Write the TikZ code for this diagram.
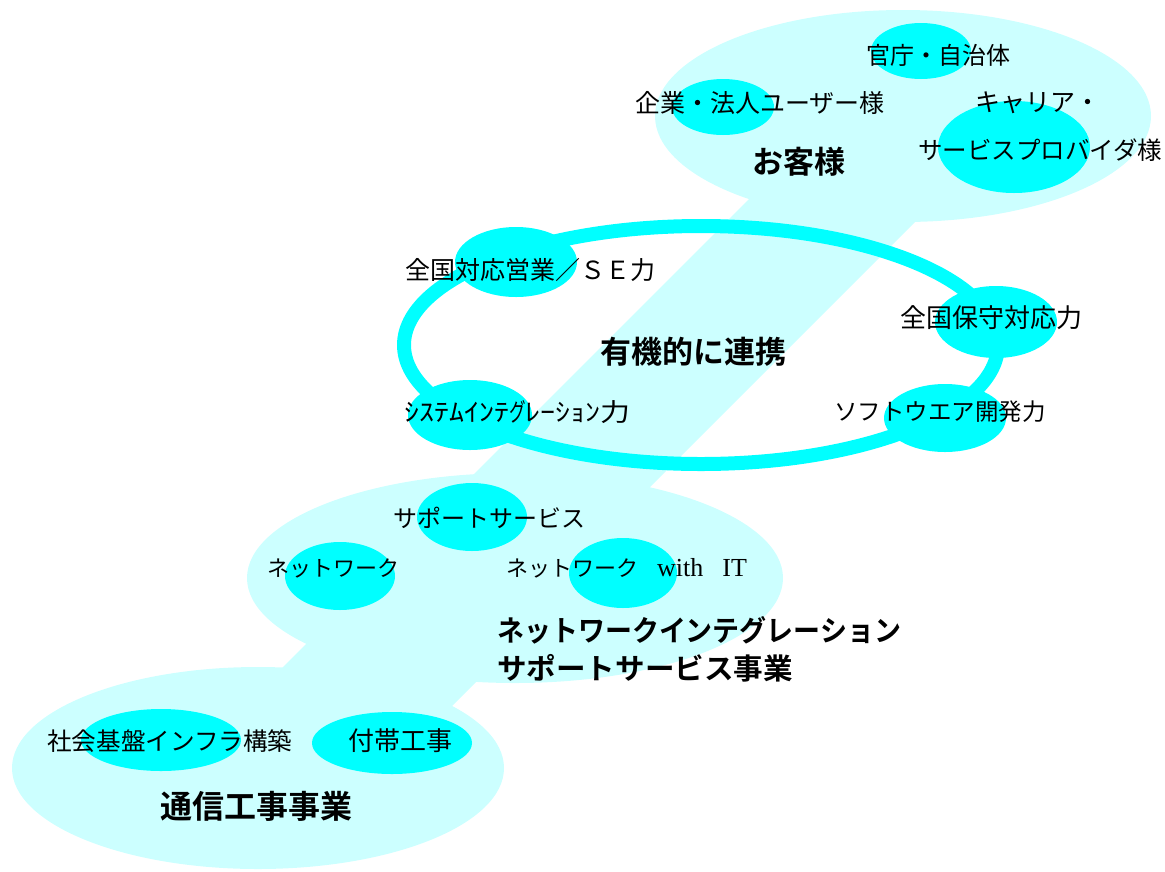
\documentclass[tikz,border=0pt]{standalone}
\usepackage{fontspec}
\setmainfont{Noto Sans CJK JP}[BoldFont={Noto Sans CJK JP Bold}]
\newfontfamily\serifw{Liberation Serif}
\usetikzlibrary{shapes.geometric}
\definecolor{pale}{HTML}{CCFFFF}
\definecolor{aqua}{HTML}{00FFFF}
\tikzset{
  big/.style={ellipse, fill=pale, draw=none, inner sep=0pt},
  small/.style={ellipse, fill=aqua, draw=none, inner sep=0pt},
  band/.style={fill=pale, draw=none},
  lbl/.style={anchor=west, inner sep=0pt, text=black},
}
\newcommand{\fs}[1]{\fontsize{#1}{#1}\selectfont}
\begin{document}
\begin{tikzpicture}[x=1pt,y=-1pt]
\useasboundingbox (0,0) rectangle (1165,871);
% bands
\fill[band] (768,180) -- (957,180) -- (637,500) -- (448,500) -- cycle;
\fill[band] (330,620) -- (538,620) -- (438,720) -- (230,720) -- cycle;
% big ellipses
\node[big, minimum width=496pt, minimum height=212pt] (cust) at (903,116) {};
\node[big, minimum width=536pt, minimum height=210pt] (net) at (515,578) {};
\node[big, minimum width=492pt, minimum height=202pt] (con) at (258,768) {};
% ring
\node[ellipse, draw=aqua, line width=14pt, minimum width=594pt, minimum height=238pt, inner sep=0pt] (ring) at (701,345) {};
% small ellipses
\node[small, minimum width=100pt, minimum height=56pt] (e1) at (921,51) {};
\node[small, minimum width=102pt, minimum height=56pt] (e2) at (723,107) {};
\node[small, minimum width=152pt, minimum height=92pt] (e3) at (1014,147) {};
\node[small, minimum width=122pt, minimum height=70pt] (r1) at (516,262) {};
\node[small, minimum width=122pt, minimum height=72pt] (r2) at (996,322) {};
\node[small, minimum width=124pt, minimum height=70pt] (r3) at (470,415) {};
\node[small, minimum width=122pt, minimum height=68pt] (r4) at (945,418) {};
\node[small, minimum width=110pt, minimum height=68pt] (n1) at (472,517) {};
\node[small, minimum width=110pt, minimum height=68pt] (n2) at (340,576) {};
\node[small, minimum width=108pt, minimum height=70pt] (n3) at (623,573) {};
\node[small, minimum width=160pt, minimum height=62pt] (c1) at (161,740) {};
\node[small, minimum width=160pt, minimum height=62pt] (c2) at (392,743) {};
% labels
\node[lbl] (t1) at (866,55) {\fs{24}官庁・自治体};
\node[lbl] (t2) at (635,103) {\fs{25}企業・法人ユーザー様};
\node[lbl] (t3) at (975,103) {\fs{25}キャリア・};
\node[lbl] (t4) at (918,150) {\fs{24.5}サービスプロバイダ様};
\node[lbl] (t5) at (752,162) {\fs{31}\bfseries お客様};
\node[lbl] (t6) at (405,270) {\fs{25}全国対応営業／ＳＥ力};
\node[lbl] (t7) at (900,318) {\fs{26}全国保守対応力};
\node[lbl] (t8) at (600,352) {\fs{31}\bfseries 有機的に連携};
\node[lbl] (t9) at (404,412) {\fs{25}\scalebox{1.2}[1]{ｼｽﾃﾑｲﾝﾃ\scalebox{0.55}[1]{グ}ﾚｰｼｮﾝ力}};
\node[lbl] (t10) at (834,412) {\fs{23.5}ソフトウエア開発力};
\node[lbl] (t11) at (393,518) {\fs{24}サポートサービス};
\node[lbl] (t12) at (267,568) {\fs{22}ネットワーク};
\node[lbl] (t13) at (506,568) {\fs{22}ネットワーク\hspace{19pt}{\serifw\fs{26}with\hspace{19pt}IT}};
\node[lbl, align=left] (t14) at (497,649) {\fs{29}\bfseries\scalebox{0.93}[1]{ネットワークインテグレーション}\\[9pt]\fs{29}\bfseries\scalebox{1.02}[1]{サポートサービス事業}};
\node[lbl] (t15) at (47,741) {\fs{24.6}社会基盤インフラ構築};
\node[lbl] (t16) at (348,741) {\fs{26}付帯工事};
\node[lbl] (t17) at (160,806) {\fs{32}\bfseries 通信工事事業};
\end{tikzpicture}
\end{document}
